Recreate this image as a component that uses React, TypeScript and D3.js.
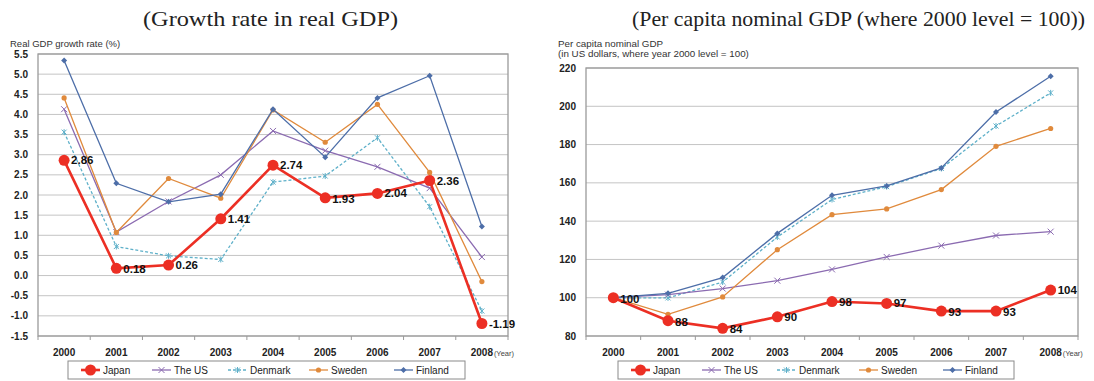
import React from "react";
import * as d3 from "d3";

const years = ["2000", "2001", "2002", "2003", "2004", "2005", "2006", "2007", "2008"];

// Real GDP growth rate (%)
const growthJapan = [2.86, 0.18, 0.26, 1.41, 2.74, 1.93, 2.04, 2.36, -1.19];
const growthUS = [4.13, 1.08, 1.84, 2.5, 3.59, 3.1, 2.7, 2.17, 0.46];
const growthDenmark = [3.56, 0.72, 0.49, 0.4, 2.32, 2.47, 3.42, 1.71, -0.88];
const growthSweden = [4.41, 1.07, 2.41, 1.92, 4.11, 3.31, 4.25, 2.56, -0.15];
const growthFinland = [5.34, 2.29, 1.83, 2.02, 4.13, 2.94, 4.41, 4.96, 1.22];
const growthTicks = [-1.5, -1.0, -0.5, 0.0, 0.5, 1.0, 1.5, 2.0, 2.5, 3.0, 3.5, 4.0, 4.5, 5.0, 5.5];

// Per capita nominal GDP index (2000 = 100)
const gdpJapan = [100, 88, 84, 90, 98, 97, 93, 93, 104];
const gdpUS = [100, 101.6, 104.8, 108.9, 114.8, 121.3, 127.2, 132.5, 134.5];
const gdpDenmark = [100, 99.9, 108.2, 131.7, 151.3, 158, 167.5, 189.7, 207];
const gdpSweden = [100, 91.3, 100.4, 125.1, 143.4, 146.4, 156.5, 179.1, 188.4];
const gdpFinland = [100, 102.3, 110.5, 133.6, 153.5, 158.4, 167.8, 197, 215.7];
const gdpTicks = [80, 100, 120, 140, 160, 180, 200, 220];

const seriesNames = ["Japan", "The US", "Denmark", "Sweden", "Finland"];

type Style = { color: string; width: number; dash?: string; marker: string };
const styles: Record<string, Style> = {
  Japan: { color: "#ec2f24", width: 2.6, marker: "bigdot" },
  "The US": { color: "#8b6bb1", width: 1.3, marker: "x" },
  Denmark: { color: "#5eb0c9", width: 1.3, dash: "3,2", marker: "star" },
  Sweden: { color: "#e08a3c", width: 1.3, marker: "dot" },
  Finland: { color: "#4d6ea8", width: 1.3, marker: "diamond" },
};

const SANS = "'Liberation Sans', Arial, sans-serif";
const SERIF = "'Liberation Serif', 'Times New Roman', serif";

function Marker({ kind, x, y, color }: { kind: string; x: number; y: number; color: string }) {
  if (kind === "bigdot") return <circle cx={x} cy={y} r={5.5} fill={color} />;
  if (kind === "dot") return <circle cx={x} cy={y} r={2.6} fill={color} />;
  if (kind === "diamond")
    return <path d={`M${x},${y - 3}L${x + 3},${y}L${x},${y + 3}L${x - 3},${y}Z`} fill={color} />;
  if (kind === "x")
    return (
      <path d={`M${x - 3},${y - 3}L${x + 3},${y + 3}M${x - 3},${y + 3}L${x + 3},${y - 3}`} stroke={color} strokeWidth={1} />
    );
  return (
    <path
      d={`M${x - 2.5},${y - 2.5}L${x + 2.5},${y + 2.5}M${x - 2.5},${y + 2.5}L${x + 2.5},${y - 2.5}M${x},${y - 3}L${x},${y + 3}`}
      stroke={color}
      strokeWidth={1}
    />
  );
}

type ChartProps = {
  x0: number;
  x1: number;
  y0: number;
  y1: number;
  domain: [number, number];
  ticks: number[];
  tickFmt: (v: number) => string;
  data: number[][];
  labelFmt: (v: number) => string;
  labelDy: number[];
  yLabel: string[];
  yLabelX: number;
  title: string;
  titleX: number;
  titleW: number;
  legendX: number;
  legendW: number;
  legendItemX: number[];
};

function LineChart(p: ChartProps) {
  const x = d3.scaleBand<string>().domain(years).range([p.x0, p.x1]);
  const y = d3.scaleLinear().domain(p.domain).range([p.y1, p.y0]);
  const cx = (yr: string) => (x(yr) as number) + x.bandwidth() / 2;
  const line = d3
    .line<number>()
    .x((_, i) => cx(years[i]))
    .y((v) => y(v));

  const order = [2, 1, 3, 4, 0]; // Japan drawn last, on top
  return (
    <g>
      <text
        x={p.titleX}
        y={26}
        fontFamily={SERIF}
        fontSize={22}
        textLength={p.titleW}
        lengthAdjust="spacingAndGlyphs"
        fill="#222"
      >
        {p.title}
      </text>
      {p.yLabel.map((t, i) => (
        <text key={i} x={p.yLabelX} y={47 + i * 9.5} fontFamily={SANS} fontSize={p.yLabel.length > 1 ? 9.8 : 9.5} fill="#333">
          {t}
        </text>
      ))}
      {/* grid */}
      {p.ticks.map((t) => (
        <line key={t} x1={p.x0} x2={p.x1} y1={y(t)} y2={y(t)} stroke="#c4c4c4" strokeWidth={1} />
      ))}
      {p.ticks.map((t) => (
        <text
          key={"l" + t}
          x={p.x0 - 10}
          y={y(t)}
          dy="0.35em"
          textAnchor="end"
          fontFamily={SANS}
          fontSize={10}
          fontWeight="bold"
          fill="#222"
        >
          {p.tickFmt(t)}
        </text>
      ))}
      {/* frame */}
      <rect x={p.x0} y={p.y0} width={p.x1 - p.x0} height={p.y1 - p.y0} fill="none" stroke="#9a9a9a" strokeWidth={1.3} />
      {years.map((yr) => (
        <line key={"t" + yr} x1={x(yr) as number} x2={x(yr) as number} y1={p.y1} y2={p.y1 + 4} stroke="#9a9a9a" />
      ))}
      <line x1={p.x1} x2={p.x1} y1={p.y1} y2={p.y1 + 4} stroke="#9a9a9a" />
      {years.map((yr) => (
        <text
          key={"x" + yr}
          x={cx(yr)}
          y={356}
          textAnchor="middle"
          fontFamily={SANS}
          fontSize={10}
          fontWeight="bold"
          fill="#222"
        >
          {yr}
        </text>
      ))}
      <text x={cx("2008") + 12} y={356} fontFamily={SANS} fontSize={7.5} fill="#444">
        (Year)
      </text>
      {/* series */}
      {order.map((si) => {
        const st = styles[seriesNames[si]];
        const vals = p.data[si];
        return (
          <g key={si}>
            <path d={line(vals) || ""} fill="none" stroke={st.color} strokeWidth={st.width} strokeDasharray={st.dash} />
            {vals.map((v, i) => (
              <Marker key={i} kind={st.marker} x={cx(years[i])} y={y(v)} color={st.color} />
            ))}
          </g>
        );
      })}
      {p.data[0].map((v, i) => (
        <text
          key={"d" + i}
          x={cx(years[i]) + 7}
          y={y(v) + p.labelDy[i]}
          dy="0.35em"
          fontFamily={SANS}
          fontSize={11.5}
          fontWeight="bold"
          fill="#111"
        >
          {p.labelFmt(v)}
        </text>
      ))}
      {/* legend */}
      <rect x={p.legendX} y={361} width={p.legendW} height={18} fill="#fff" stroke="#8a8a8a" strokeWidth={1} />
      {seriesNames.map((n, i) => {
        const st = styles[n];
        const lx = p.legendItemX[i];
        return (
          <g key={n}>
            <line x1={lx} x2={lx + 19} y1={370} y2={370} stroke={st.color} strokeWidth={st.width} strokeDasharray={st.dash} />
            <Marker kind={st.marker} x={lx + 9.5} y={370} color={st.color} />
            <text x={lx + 22} y={370} dy="0.35em" fontFamily={SANS} fontSize={10} fill="#222">
              {n}
            </text>
          </g>
        );
      })}
    </g>
  );
}

export default function App() {
  return (
    <svg
      width={1094}
      height={381}
      style={{ position: "absolute", left: 0, top: 0, background: "#fff" }}
      xmlns="http://www.w3.org/2000/svg"
    >
      <rect width={1094} height={381} fill="#fff" />
      <LineChart
        x0={38}
        x1={508}
        y0={54}
        y1={336}
        domain={[-1.5, 5.5]}
        ticks={growthTicks}
        tickFmt={(v) => v.toFixed(1)}
        data={[growthJapan, growthUS, growthDenmark, growthSweden, growthFinland]}
        labelFmt={(v) => v.toFixed(2)}
        labelDy={[0, 1, 0, 0, 0, 1, 0, 0, 0]}
        yLabel={["Real GDP growth rate (%)"]}
        yLabelX={10}
        title="(Growth rate in real GDP)"
        titleX={143}
        titleW={255}
        legendX={68}
        legendW={397}
        legendItemX={[81, 152, 228, 309, 394]}
      />
      <LineChart
        x0={586}
        x1={1078}
        y0={68}
        y1={336}
        domain={[80, 220]}
        ticks={gdpTicks}
        tickFmt={(v) => String(v)}
        data={[gdpJapan, gdpUS, gdpDenmark, gdpSweden, gdpFinland]}
        labelFmt={(v) => String(v)}
        labelDy={[1, 1, 1, 0, 0, 0, 1, 1, 0]}
        yLabel={["Per capita nominal GDP", "(in US dollars, where year 2000 level = 100)"]}
        yLabelX={558}
        title="(Per capita nominal GDP (where 2000 level = 100))"
        titleX={632}
        titleW={453}
        legendX={618}
        legendW={396}
        legendItemX={[631, 702, 777, 859, 943]}
      />
    </svg>
  );
}
